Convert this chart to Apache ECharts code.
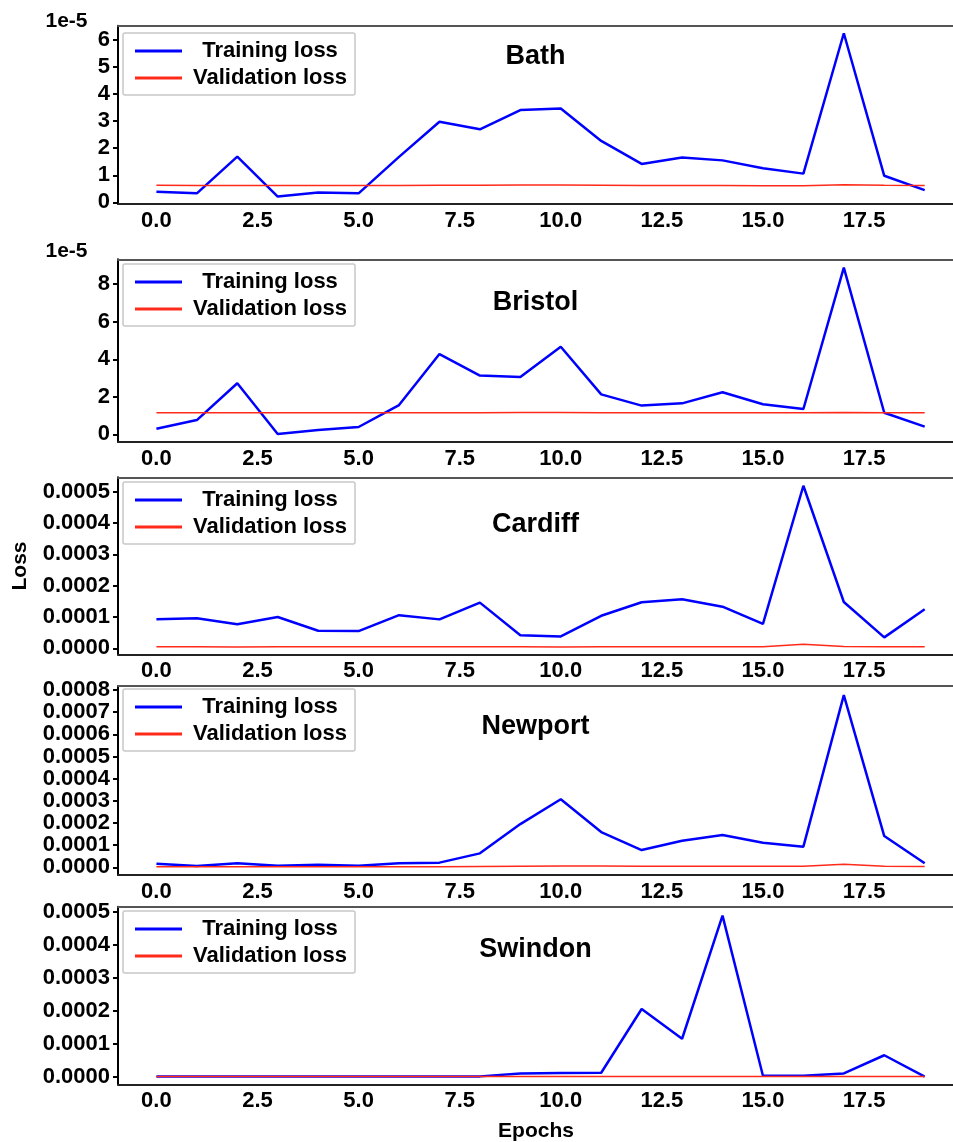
<!DOCTYPE html>
<html><head><meta charset="utf-8">
<script src="https://cdn.jsdelivr.net/npm/echarts@6/dist/echarts.min.js"></script>
<style>html,body{margin:0;padding:0;background:#fff}#c{width:953px;height:1142px}</style>
</head><body><div id="c"></div>
<script>
// ---------- data ----------
const epochs = [0,1,2,3,4,5,6,7,8,9,10,11,12,13,14,15,16,17,18,19];
const xTicks = [0,2.5,5,7.5,10,12.5,15,17.5];
const legendNames = ['Training loss','Validation loss'];
const cityNames = ['Bath','Bristol','Cardiff','Newport','Swindon'];

const bathTrain = [3.9e-6,3.3e-6,1.69e-5,2.1e-6,3.6e-6,3.3e-6,1.68e-5,2.98e-5,2.70e-5,3.41e-5,3.47e-5,2.27e-5,1.42e-5,1.66e-5,1.55e-5,1.26e-5,1.06e-5,6.25e-5,9.8e-6,4.5e-6];
const bathVal   = [6.3e-6,6.2e-6,6.2e-6,6.2e-6,6.2e-6,6.2e-6,6.2e-6,6.3e-6,6.3e-6,6.4e-6,6.4e-6,6.3e-6,6.2e-6,6.2e-6,6.2e-6,6.1e-6,6.1e-6,6.5e-6,6.3e-6,6.2e-6];
const bathTicks = [0,1e-5,2e-5,3e-5,4e-5,5e-5,6e-5];

const bristolTrain = [3.0e-6,7.6e-6,2.72e-5,2e-7,2.3e-6,3.9e-6,1.56e-5,4.28e-5,3.13e-5,3.06e-5,4.67e-5,2.13e-5,1.53e-5,1.65e-5,2.24e-5,1.60e-5,1.35e-5,8.89e-5,1.15e-5,4.1e-6];
const bristolVal   = [1.15e-5,1.15e-5,1.15e-5,1.15e-5,1.15e-5,1.15e-5,1.15e-5,1.15e-5,1.15e-5,1.16e-5,1.16e-5,1.15e-5,1.15e-5,1.15e-5,1.15e-5,1.15e-5,1.15e-5,1.16e-5,1.15e-5,1.15e-5];
const bristolTicks = [0,2e-5,4e-5,6e-5,8e-5];

const cardiffTrain = [9.25e-5,9.6e-5,7.7e-5,1.0e-4,5.6e-5,5.5e-5,1.06e-4,9.25e-5,1.46e-4,4.2e-5,3.8e-5,1.04e-4,1.47e-4,1.57e-4,1.33e-4,7.8e-5,5.19e-4,1.48e-4,3.5e-5,1.25e-4];
const cardiffVal   = [5e-6,5e-6,4e-6,5e-6,5e-6,5e-6,5e-6,5e-6,5e-6,5e-6,4e-6,5e-6,5e-6,5e-6,5e-6,5e-6,1.3e-5,6e-6,5e-6,5e-6];
const cardiffTicks = [0,1e-4,2e-4,3e-4,4e-4,5e-4];

const newportTrain = [1.6e-5,6e-6,1.8e-5,7e-6,1.2e-5,7e-6,1.8e-5,2.1e-5,6.3e-5,1.95e-4,3.07e-4,1.59e-4,7.8e-5,1.2e-4,1.46e-4,1.11e-4,9.3e-5,7.77e-4,1.41e-4,1.8e-5];
const newportVal   = [3e-6,3e-6,3e-6,3e-6,3e-6,3e-6,3e-6,3e-6,4e-6,5e-6,6e-6,6e-6,5e-6,5e-6,5e-6,5e-6,5e-6,1.4e-5,5e-6,4e-6];
const newportTicks = [0,1e-4,2e-4,3e-4,4e-4,5e-4,6e-4,7e-4,8e-4];

const swindonTrain = [5e-7,4e-7,3e-7,3e-7,3e-7,3e-7,4e-7,4e-7,1e-6,1.0e-5,1.1e-5,1.2e-5,2.05e-4,1.15e-4,4.88e-4,3e-6,3e-6,1.0e-5,6.5e-5,0];
const swindonVal   = [3e-7,3e-7,3e-7,3e-7,3e-7,3e-7,3e-7,3e-7,3e-7,3e-7,3e-7,3e-7,3e-7,3e-7,3e-7,3e-7,3e-7,3e-7,3e-7,3e-7];
const swindonTicks = [0,1e-4,2e-4,3e-4,4e-4,5e-4];

// ---------- layout ----------
const F = '"Liberation Sans", Arial, Helvetica, sans-serif';
const fmtE5 = v => String(Math.round(v / 1e-5));
const fmt4 = v => v.toFixed(4);
const panels = [
  {train: bathTrain,    val: bathVal,    ticks: bathTicks,    fmt: fmtE5, top: 25.7,  bottom: 204,    min: -0.063e-5, max: 6.53e-5, titleY: 57,  legendTop: 33},
  {train: bristolTrain, val: bristolVal, ticks: bristolTicks, fmt: fmtE5, top: 259.3, bottom: 442,    min: -0.41e-5,  max: 9.33e-5, titleY: 303, legendTop: 264},
  {train: cardiffTrain, val: cardiffVal, ticks: cardiffTicks, fmt: fmt4,  top: 477.3, bottom: 654.3,  min: -0.19e-4,  max: 5.46e-4, titleY: 525, legendTop: 482},
  {train: newportTrain, val: newportVal, ticks: newportTicks, fmt: fmt4,  top: 686,   bottom: 875,    min: -0.347e-4, max: 8.18e-4, titleY: 727, legendTop: 689},
  {train: swindonTrain, val: swindonVal, ticks: swindonTicks, fmt: fmt4,  top: 906.7, bottom: 1084.3, min: -0.23e-4,  max: 5.15e-4, titleY: 950, legendTop: 911}
];
const XMIN = -0.95, XMAX = 19.7;

const grid = [], xAxis = [], yAxis = [], series = [], legend = [], graphic = [];
panels.forEach((p, i) => {
  grid.push({left: 118, right: 0, top: p.top, height: p.bottom - p.top, containLabel: false});
  xAxis.push({
    type: 'value', gridIndex: i, min: XMIN, max: XMAX, position: 'bottom',
    axisLine: {show: true, onZero: false, lineStyle: {color: '#222', width: 2}},
    axisTick: {show: false}, splitLine: {show: false},
    axisLabel: {customValues: xTicks, formatter: v => v.toFixed(1), fontSize: 22, fontWeight: 'bold', color: '#000', fontFamily: F, margin: 6}
  });
  xAxis.push({
    type: 'value', gridIndex: i, min: XMIN, max: XMAX, position: 'top',
    axisLine: {show: true, onZero: false, lineStyle: {color: '#555', width: 2}},
    axisTick: {show: false}, axisLabel: {show: false}, splitLine: {show: false}
  });
  yAxis.push({
    type: 'value', gridIndex: i, min: p.min, max: p.max, position: 'left',
    axisLine: {show: true, onZero: false, lineStyle: {color: '#000', width: 2}},
    axisTick: {show: true, length: 5, customValues: p.ticks, lineStyle: {color: '#000', width: 2}},
    axisLabel: {customValues: p.ticks, formatter: p.fmt, fontSize: 22, fontWeight: 'bold', color: '#000', fontFamily: F, margin: 8},
    splitLine: {show: false}
  });
  series.push({
    name: legendNames[0], type: 'line', xAxisIndex: 2 * i, yAxisIndex: i,
    data: epochs.map((e, j) => [e, p.train[j]]),
    showSymbol: false, symbol: 'none', color: '#0000ff',
    lineStyle: {color: '#0000ff', width: 2.5}, z: 2
  });
  series.push({
    name: legendNames[1], type: 'line', xAxisIndex: 2 * i, yAxisIndex: i,
    data: epochs.map((e, j) => [e, p.val[j]]),
    showSymbol: false, symbol: 'none', color: '#ff2a1a',
    lineStyle: {color: '#ff2a1a', width: 1.5}, z: 3
  });
  legend.push({
    data: legendNames, orient: 'vertical', left: 123, top: p.legendTop,
    icon: 'rect', itemWidth: 47, itemHeight: 3, itemGap: 5,
    padding: [7, 2, 6, 12], selectedMode: false,
    backgroundColor: '#fff', borderColor: '#c8c8c8', borderWidth: 1.5, borderRadius: 2,
    formatter: n => '{c|' + n + '}',
    textStyle: {rich: {c: {width: 166, align: 'center', fontSize: 22, fontWeight: 'bold', color: '#000', fontFamily: F, lineHeight: 22}}}
  });
  graphic.push({type: 'text', x: 535.5, y: p.titleY, z: 10,
    style: {text: cityNames[i], font: 'bold 27px ' + F, fill: '#000', textAlign: 'center', textVerticalAlign: 'middle'}});
});
graphic.push({type: 'text', x: 66.5, y: 21.5, style: {text: '1e-5', font: 'bold 21px ' + F, fill: '#000', textAlign: 'center', textVerticalAlign: 'middle'}});
graphic.push({type: 'text', x: 66.5, y: 251.5, style: {text: '1e-5', font: 'bold 21px ' + F, fill: '#000', textAlign: 'center', textVerticalAlign: 'middle'}});
graphic.push({type: 'text', x: 20.5, y: 566, rotation: Math.PI / 2, style: {text: 'Loss', font: 'bold 21px ' + F, fill: '#000', textAlign: 'center', textVerticalAlign: 'middle'}});
graphic.push({type: 'text', x: 536, y: 1131, style: {text: 'Epochs', font: 'bold 21px ' + F, fill: '#000', textAlign: 'center', textVerticalAlign: 'middle'}});

const chart = echarts.init(document.getElementById('c'), null, {renderer: 'canvas'});
chart.setOption({animation: false, backgroundColor: '#fff', grid, xAxis, yAxis, series, legend, graphic});
</script>
</body></html>
